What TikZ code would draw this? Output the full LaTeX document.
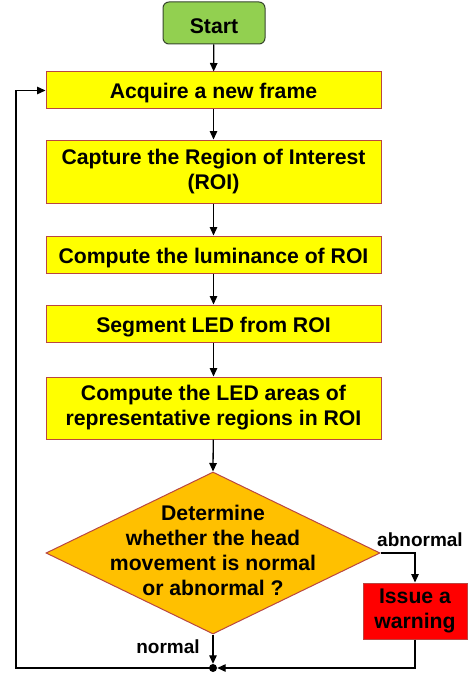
\documentclass[tikz,border=0pt]{standalone}
\usepackage{fontspec}
\setmainfont{Liberation Sans}
\usetikzlibrary{arrows.meta,shapes.geometric}
\definecolor{boxyellow}{RGB}{255,255,0}
\definecolor{boxedge}{RGB}{185,70,65}
\definecolor{startgreen}{RGB}{146,208,80}
\definecolor{startedge}{RGB}{55,70,45}
\definecolor{diaorange}{RGB}{255,192,0}
\definecolor{warnred}{RGB}{255,0,0}
\tikzset{
  x=1pt, y=-1pt,
  every node/.style={font=\bfseries\fontsize{21.2}{25}\selectfont, align=center, inner sep=0pt},
  stepbox/.style={draw=boxedge, line width=1pt, fill=boxyellow, minimum width=335pt},
  onerow/.style={minimum height=37pt, text height=17pt, text depth=0pt},
  startbox/.style={draw=startedge, line width=1pt, fill=startgreen, rounded corners=6pt, minimum width=102pt, minimum height=42pt, text height=22pt, text depth=0pt},
  decision/.style={diamond, draw=boxedge, line width=1pt, fill=diaorange, minimum width=334pt, minimum height=162pt},
  warnbox/.style={draw=boxedge, line width=1pt, fill=warnred, minimum width=104pt, minimum height=56pt},
  flow/.style={line width=1.3pt, -{Triangle[length=8.5pt,width=7.5pt]}},
  lbl/.style={font=\bfseries\fontsize{19}{22}\selectfont},
  junction/.style={circle, fill=black, minimum size=8pt, inner sep=0pt}
}
\begin{document}
\begin{tikzpicture}
\useasboundingbox (0,0) rectangle (470,674);
\node[startbox] (start) at (214,23) {Start};
\node[stepbox, onerow] (acq) at (213.5,90.5) {Acquire a new frame};
\node[stepbox, minimum height=63pt] (cap) at (213.5,171.5) {Capture the Region of Interest\\(ROI)};
\node[stepbox, onerow] (lum) at (213.5,254.5) {Compute the luminance of ROI};
\node[stepbox, onerow] (seg) at (213.5,323.5) {Segment LED from ROI};
\node[stepbox, minimum height=62pt] (led) at (213.5,408) {Compute the LED areas of\\representative regions in ROI};
\node[decision] (dia) at (213,553) {};
\node (diatext) at (213,550) {Determine\\whether the head\\movement is normal\\or abnormal ?};
\node[warnbox] (warn) at (415,611) {Issue a\\warning};
\node[junction] (dot) at (213,668) {};
\node[lbl, anchor=base] (abn) at (420,546) {abnormal};
\node[lbl, anchor=base] (nor) at (168,653) {normal};
\coordinate (lb) at (16,668);
\draw[flow] (start) -- (acq);
\draw[flow] (acq) -- (cap);
\draw[flow] (cap) -- (lum);
\draw[flow] (lum) -- (seg);
\draw[flow] (seg) -- (led);
\draw[flow] (led) -- (dia.north);
\draw[flow] (dia.east) -| (warn.north);
\draw[flow] (dia.south) -- (dot);
\draw[flow] (warn.south) |- (dot);
\draw[flow] (dot.center) -- (lb) |- (acq.west);
\end{tikzpicture}
\end{document}
